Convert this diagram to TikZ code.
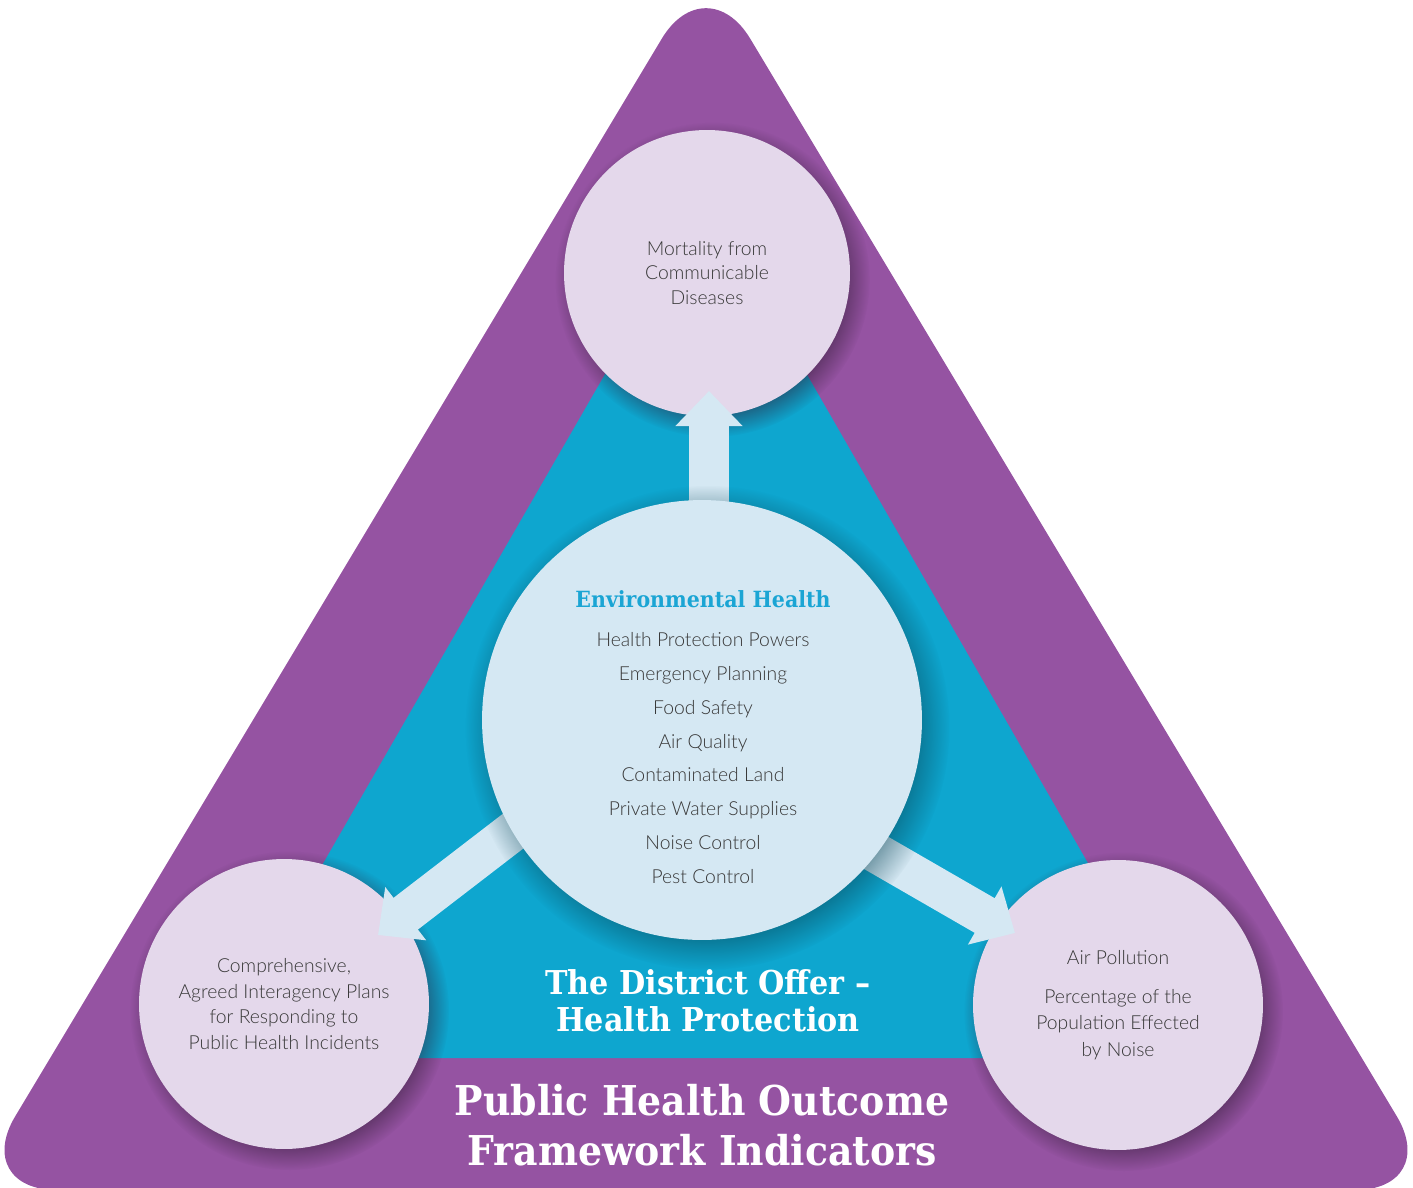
\documentclass[tikz,border=0pt]{standalone}
\usepackage{fontspec}
\IfFontExistsTF{Lato Light}{\setmainfont{Lato Light}}{\setmainfont{Lato}}
\newfontfamily\slabfont{DejaVu Serif}[FakeStretch=0.92]
\usetikzlibrary{arrows.meta,shadows}
\definecolor{outerpurple}{HTML}{9553A2}
\definecolor{offerblue}{HTML}{0EA6CF}
\definecolor{lilac}{HTML}{E4D8EB}
\definecolor{paleblue}{HTML}{D5E8F3}
\definecolor{headblue}{HTML}{1BA5D4}
\definecolor{bodygrey}{HTML}{383838}
\begin{document}
\begin{tikzpicture}
		[x=0.02cm,y=-0.02cm,
		indicator/.style={circle,fill=lilac,minimum size=5.8cm,inner sep=0pt,align=center,
			text=bodygrey,font=\fontsize{11}{14.6}\selectfont,
			circular drop shadow={shadow xshift=0.1cm,shadow yshift=-0.12cm,fill=black!70!outerpurple,opacity=0.45}},
		fatarrow/.style={draw=paleblue,line width=0.8cm,-{Triangle[width=1.3cm,length=0.7cm]}},
		bigtitle/.style 2 args={text=white,align=center,font=\slabfont\bfseries\fontsize{#1}{#2}\selectfont}]
		\useasboundingbox (0,0) rectangle (1413,1187);
		\clip (0,0) rectangle (1413,1187);
		% frame triangles
		\fill[outerpurple,rounded corners=1.72cm] (706,-35) -- (1441,1190) -- (-29,1190) -- cycle;
		\fill[offerblue] (706,199) -- (1200,1058) -- (211,1058) -- cycle;
		% indicator circles
		\node[indicator,minimum size=5.72cm,font=\fontsize{11}{13.8}\selectfont] (mortality) at (707,273) {Mortality from\\Communicable\\Diseases};
		\node[indicator] (plans) at (284,1004) {Comprehensive,\\Agreed Interagency Plans\\for Responding to\\Public Health Incidents};
		\node[indicator,font=\fontsize{11}{15}\selectfont] (pollution) at (1118,1005) {Air Pollution\\[7pt]Percentage of the\\Population Effected\\by Noise};
		% arrows
		\coordinate (hub) at (702,720);
		\coordinate (uptip) at (709,391);
		\coordinate (lefttip) at (378,935);
		\coordinate (leftfoot) at (616,752);
		\coordinate (righttip) at (1015,933);
		\coordinate (rightfoot) at (755,783);
		\draw[fatarrow] (uptip |- hub) -- (uptip);
		\draw[fatarrow] (leftfoot) -- (lefttip);
		\draw[fatarrow] (rightfoot) -- (righttip);
		% environmental health
		\node[circle,fill=paleblue,minimum size=8.8cm,inner sep=0pt,
			circular drop shadow={shadow xshift=0.1cm,shadow yshift=-0.14cm,fill=black!60!offerblue,opacity=0.5}] (env) at (hub) {};
		\node[align=center,text=bodygrey,font=\fontsize{11}{19.3}\selectfont] (envlist) at (703,737)
			{{\slabfont\bfseries\fontsize{12.7}{14}\selectfont\color{headblue}Environmental Health}\\[3pt]
			Health Protection Powers\\Emergency Planning\\Food Safety\\Air Quality\\
			Contaminated Land\\Private Water Supplies\\Noise Control\\Pest Control};
		% titles
		\node[bigtitle={18.7}{21}] (offer) at (708,1001) {The District Offer –\\Health Protection};
		\node[bigtitle={23.4}{28.5}] (framework) at (702,1125) {Public Health Outcome\\Framework Indicators};
	\end{tikzpicture}
\end{document}
